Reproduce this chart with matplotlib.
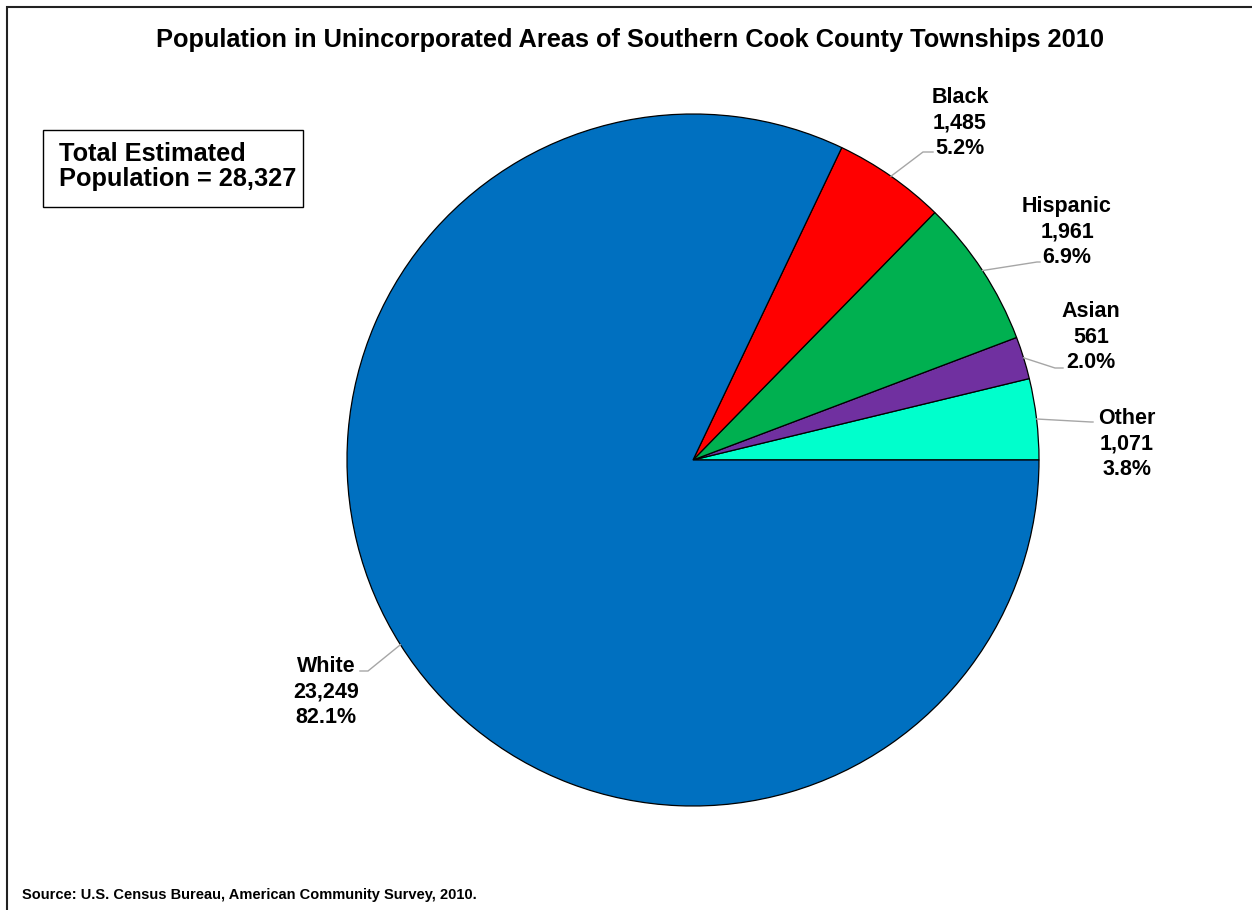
import matplotlib
matplotlib.use("Agg")
import matplotlib.pyplot as plt
from matplotlib.patches import Rectangle
import numpy as np

plt.rcParams['font.family'] = ['Liberation Sans', 'DejaVu Sans']
plt.rcParams['font.weight'] = 'bold'

# Data
categories = ["White", "Black", "Hispanic", "Asian", "Other"]
population = [23249, 1485, 1961, 561, 1071]
colors = ["#0070C0", "#FF0000", "#00B050", "#7030A0", "#00FFCC"]
title = "Population in Unincorporated Areas of Southern Cook County Townships 2010"
source = "Source: U.S. Census Bureau, American Community Survey, 2010."

# Canvas in pixel units (y measured downward from the top)
W, H = 1252, 910
fig = plt.figure(figsize=(W / 100, H / 100), dpi=100)
ax = fig.add_axes([0, 0, 1, 1])
ax.set_xlim(0, W)
ax.set_ylim(0, H)
ax.set_aspect('equal')
ax.axis('off')


def fy(y):
    return H - y


# Pie geometry
cx, cy, radius = 693, 460, 346

# Slices are laid out counter-clockwise from 3 o'clock: Other, Asian, Hispanic, Black, White
order = [4, 3, 2, 1, 0]
vals = [population[i] for i in order]
cols = [colors[i] for i in order]
wedges, _ = ax.pie(vals, colors=cols, startangle=0, counterclock=True,
                   center=(cx, fy(cy)), radius=radius, frame=True,
                   wedgeprops=dict(edgecolor='black', linewidth=0.9))
ax.set_xlim(0, W)
ax.set_ylim(0, H)
ax.axis('off')

total = sum(population)

# Label layout: first-line baseline centre and leader-line path (elbow, end)
label_layout = {
    "Black":    dict(x=960, y=103, elbow=(923, 152), end=(933, 152)),
    "Hispanic": dict(x=1067, y=212, elbow=(1037, 262), end=(1040, 262)),
    "Asian":    dict(x=1091, y=317, elbow=(1055, 368), end=(1063, 368)),
    "Other":    dict(x=1127, y=424, elbow=(1091, 422), end=(1093, 422)),
    "White":    dict(x=326, y=672, elbow=(368, 671), end=(360, 671)),
}
line_gap = 25.7
label_size = 15.5

for w, idx in zip(wedges, order):
    name = categories[idx]
    val = population[idx]
    lay = label_layout[name]
    mid = np.deg2rad((w.theta1 + w.theta2) / 2)
    sx = cx + radius * np.cos(mid)
    sy = fy(cy) + radius * np.sin(mid)
    ex, ey = lay['elbow']
    tx, ty = lay['end']
    ax.plot([sx, ex, tx], [sy, fy(ey), fy(ty)], color='#A6A6A6', lw=1.0,
            solid_joinstyle='miter', zorder=1)
    lines = [name, f"{val:,}", f"{100 * val / total:.1f}%"]
    for k, t in enumerate(lines):
        ax.text(lay['x'], fy(lay['y'] + k * line_gap), t, ha='center', va='baseline',
                fontsize=label_size, fontweight='bold', color='black')

# Title
ax.text(629.5, fy(46.5), title, ha='center', va='baseline', fontsize=18.3,
        fontweight='bold', color='black')

# Total population box
ax.add_patch(Rectangle((43, fy(207)), 303 - 43, 207 - 130, fill=False,
                       edgecolor='black', linewidth=1.0))
ax.text(59, fy(161), "Total Estimated", ha='left', va='baseline', fontsize=18.3,
        fontweight='bold')
ax.text(59, fy(186), f"Population = {total:,}", ha='left', va='baseline',
        fontsize=18.3, fontweight='bold')

# Source note
ax.text(22, fy(899), source, ha='left', va='baseline', fontsize=10.5, fontweight='bold')

# Chart frame (top and left edges)
ax.plot([7, 7, W], [fy(H), fy(7), fy(7)], color='#222222', lw=1.5,
        solid_joinstyle='miter', clip_on=False)

fig.savefig("out.png", dpi=100)
